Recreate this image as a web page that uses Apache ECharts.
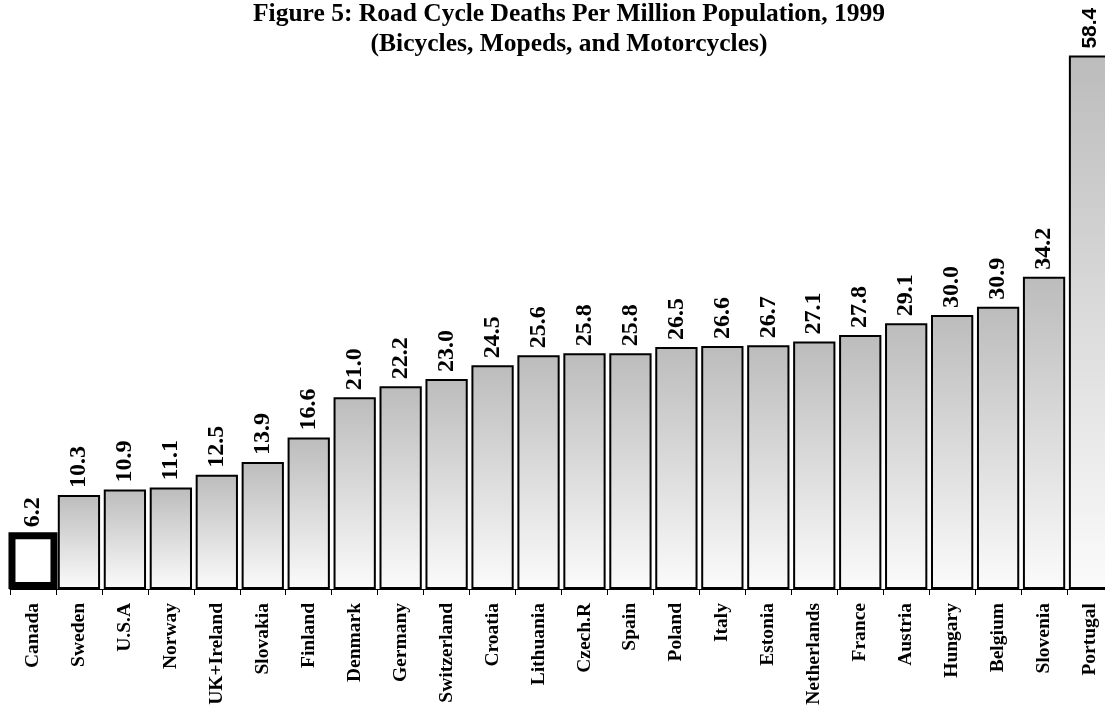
<!DOCTYPE html>
<html>
<head>
<meta charset="utf-8">
<script src="https://cdn.jsdelivr.net/npm/echarts@6/dist/echarts.min.js"></script>
<style>
  html, body { margin: 0; padding: 0; background: #fff; overflow: hidden; }
  /* plot runs slightly past the right edge, as in the original */
  #chart { width: 1113px; height: 710px; }
</style>
</head>
<body>
<div id="chart"></div>
<script>
let countries = ['Canada', 'Sweden', 'U.S.A', 'Norway', 'UK+Ireland', 'Slovakia', 'Finland', 'Denmark',
    'Germany', 'Switzerland', 'Croatia', 'Lithuania', 'Czech.R', 'Spain', 'Poland', 'Italy',
    'Estonia', 'Netherlands', 'France', 'Austria', 'Hungary', 'Belgium', 'Slovenia', 'Portugal'];
let deaths = [6.2, 10.3, 10.9, 11.1, 12.5, 13.9, 16.6, 21.0, 22.2, 23.0, 24.5, 25.6, 25.8, 25.8,
    26.5, 26.6, 26.7, 27.1, 27.8, 29.1, 30.0, 30.9, 34.2, 58.4];
let highlighted = 'Canada';

let chart = echarts.init(document.getElementById('chart'));

let serif = '"Liberation Serif", "Times New Roman", serif';

let barFill = new echarts.graphic.LinearGradient(0, 0, 0, 1, [
    { offset: 0, color: '#bcbcbc' },
    { offset: 1, color: '#fbfbfb' }
]);

let mainData = deaths.map(function (v, i) {
    if (countries[i] === highlighted) return '-';
    let item = { value: v };
    if (countries[i] === 'Portugal') {
        // this one label is set in a sans face in the original
        item.label = { fontFamily: '"Liberation Sans", Arial, sans-serif', fontSize: 21, distance: 7 };
    }
    return item;
});
// the highlighted bar is wider, with a heavy outline
let highlightData = deaths.map(function (v, i) {
    return countries[i] === highlighted ? v : '-';
});

let valueLabel = {
    show: true,
    position: 'top',
    rotate: 90,
    align: 'left',
    verticalAlign: 'middle',
    distance: 7,
    formatter: function (p) { return p.value.toFixed(1); },
    fontFamily: serif,
    fontWeight: 'bold',
    fontSize: 24,
    color: '#000'
};

chart.setOption({
    animation: false,
    backgroundColor: '#ffffff',
    title: {
        text: 'Figure 5: Road Cycle Deaths Per Million Population, 1999\n(Bicycles, Mopeds, and Motorcycles)',
        left: 564,
        top: -6,
        textAlign: 'center',
        textStyle: {
            fontFamily: serif,
            fontWeight: 'bold',
            fontSize: 25.5,
            lineHeight: 30,
            color: '#000'
        }
    },
    grid: {
        left: 10,
        top: 41,
        right: 0,
        bottom: 121,
        containLabel: false
    },
    xAxis: [{
        type: 'category',
        data: countries,
        axisLine: { lineStyle: { color: '#000', width: 1 } },
        axisTick: { show: true, length: 6, lineStyle: { color: '#000' } },
        axisLabel: {
            rotate: 90,
            interval: 0,
            margin: 14,
            fontFamily: serif,
            fontWeight: 'bold',
            fontSize: 19.5,
            color: '#000'
        }
    }, {
        type: 'category',
        data: countries,
        position: 'bottom',
        show: false
    }],
    yAxis: {
        type: 'value',
        min: 0,
        max: 60,
        show: false,
        splitLine: { show: false }
    },
    series: [{
        type: 'bar',
        data: mainData,
        barCategoryGap: '8%',
        itemStyle: {
            color: barFill,
            borderColor: '#000',
            borderWidth: 2
        },
        label: valueLabel
    }, {
        type: 'bar',
        xAxisIndex: 1,
        data: highlightData,
        barWidth: 49,
        itemStyle: {
            color: '#ffffff',
            borderColor: '#000',
            borderWidth: 7
        },
        label: Object.assign({}, valueLabel, { distance: 5 })
    }]
});
</script>
</body>
</html>
